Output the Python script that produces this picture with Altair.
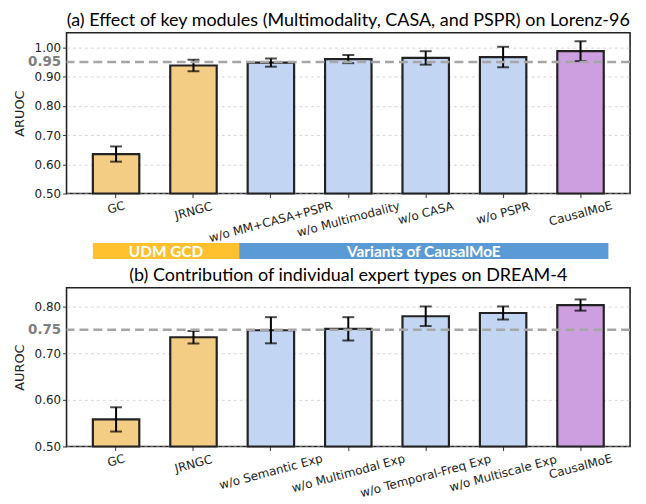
import altair as alt
import pandas as pd

# ---------------- data ----------------
categories_a = ["GC", "JRNGC", "w/o MM+CASA+PSPR", "w/o Multimodality",
                "w/o CASA", "w/o PSPR", "CausalMoE"]
values_a = [0.635, 0.938, 0.948, 0.960, 0.964, 0.967, 0.987]
errors_a = [0.026, 0.020, 0.014, 0.014, 0.023, 0.035, 0.034]

categories_b = ["GC", "JRNGC", "w/o Semantic Exp", "w/o Multimodal Exp",
                "w/o Temporal-Freq Exp", "w/o Multiscale Exp", "CausalMoE"]
values_b = [0.558, 0.734, 0.749, 0.752, 0.779, 0.786, 0.803]
errors_b = [0.026, 0.0135, 0.028, 0.025, 0.021, 0.014, 0.012]

kinds = ["UDM", "UDM", "Variant", "Variant", "Variant", "Variant", "Ours"]
kind_domain = ["UDM", "Variant", "Ours"]
kind_colors = ["#F4CD84", "#C2D6F3", "#CE9FE0"]

ref_a = 0.95
ref_b = 0.75
ticks_a = [0.5, 0.6, 0.7, 0.8, 0.9, 1.0, 0.95]
ticks_b = [0.5, 0.6, 0.7, 0.8, 0.75]

group_names = ["UDM GCD", "Variants of CausalMoE"]
group_edges = [-0.30, 1.59, 6.36]          # band extents in bar-index units
group_colors = ["#FFC12E", "#5B9BD5"]

# ---------------- layout constants ----------------
PAD_INNER = 0.4
PAD_OUTER = 0.34
W = 568
FONT = "DejaVu Sans"
TITLE_FONT = "Lato"
# label padding grows with the rotated label's width (centred, 15 deg rotation)
LABEL_PAD = ("7.5 + 0.80 * length(datum.label)"
             " + 0.31 * (length(datum.label) - length(replace(datum.label, regexp('[A-Z+]', 'g'), '')))")


def panel(cats, vals, errs, ref, domain, ticks, title, ytitle, h):
    df = pd.DataFrame({"cat": cats, "val": vals, "err": errs, "kind": kinds})
    df["lo"] = df["val"] - df["err"]
    df["hi"] = df["val"] + df["err"]
    base = alt.Chart(df)
    is_ref = f"abs(datum.value - {ref}) < 0.0001"
    xscale = alt.Scale(paddingInner=PAD_INNER, paddingOuter=PAD_OUTER)
    yscale = alt.Scale(domain=domain, nice=False, zero=False)
    xaxis = alt.Axis(
        title=None, labelAngle=345, labelAlign="center", labelBaseline="middle",
        labelPadding=alt.ExprRef(LABEL_PAD),
        labelFont=FONT, labelFontSize=12, labelColor="#222", labelOverlap=False,
        tickSize=4, tickColor="#333", domain=False, grid=False,
    )
    yaxis = alt.Axis(
        title=ytitle, values=ticks, tickCount=50, format=".2f", titleFont=FONT,
        titleFontSize=13, titleFontWeight="normal", titleColor="#222", titlePadding=1,
        labelFont=FONT, labelPadding=2, tickSize=4, tickColor="#333", domain=False,
        labelOverlap=False,
        labelColor={"condition": {"test": is_ref, "value": "#808080"}, "value": "#222"},
        labelFontWeight={"condition": {"test": is_ref, "value": "bold"}, "value": "normal"},
        labelFontSize={"condition": {"test": is_ref, "value": 13.5}, "value": 12},
        tickOpacity={"condition": {"test": is_ref, "value": 0}, "value": 1},
        grid=True, gridColor="#cccccc", gridDash=[3, 3], gridWidth=0.8,
        gridOpacity={"condition": {"test": is_ref, "value": 0}, "value": 1},
    )
    xs = alt.X("cat:N", sort=cats)
    bars = base.mark_bar(stroke="#222", strokeWidth=2.2).encode(
        x=alt.X("cat:N", sort=cats, scale=xscale, axis=xaxis),
        y=alt.Y("val:Q", scale=yscale, axis=yaxis),
        y2=alt.datum(domain[0]),
        color=alt.Color("kind:N", scale=alt.Scale(domain=kind_domain, range=kind_colors),
                        legend=None),
    )
    rules = base.mark_rule(color="black", strokeWidth=2).encode(
        x=xs, y="lo:Q", y2="hi:Q"
    )
    cap_lo = base.mark_tick(color="black", orient="horizontal", size=12, thickness=2).encode(
        x=xs, y="lo:Q"
    )
    cap_hi = base.mark_tick(color="black", orient="horizontal", size=12, thickness=2).encode(
        x=xs, y="hi:Q"
    )
    refline = alt.Chart(pd.DataFrame({"r": [ref]})).mark_rule(
        color="#A6A6A6", strokeWidth=2.5, strokeDash=[9, 5]
    ).encode(y="r:Q")
    return alt.layer(bars, rules, cap_lo, cap_hi, refline).properties(
        width=W, height=h,
        title=alt.TitleParams(title, font=TITLE_FONT, fontSize=18.1, fontWeight="normal",
                              color="black", offset=3, anchor="middle"),
    )


panel_a = panel(categories_a, values_a, errors_a, ref_a, [0.5, 1.05], ticks_a,
                "(a) Effect of key modules (Multimodality, CASA, and PSPR) on Lorenz-96",
                "ARUOC", 162)
panel_b = panel(categories_b, values_b, errors_b, ref_b, [0.5, 0.84], ticks_b,
                "(b) Contribution of individual expert types on DREAM-4",
                "AUROC", 160)

# ---------------- group band ----------------
n = len(categories_a)
x_lo = -(PAD_OUTER + (1 - PAD_INNER) / 2)
x_hi = (n - 1) + (PAD_OUTER + (1 - PAD_INNER) / 2)
gdf = pd.DataFrame({
    "name": group_names,
    "start": group_edges[:-1],
    "end": group_edges[1:],
})
gdf["mid"] = (gdf["start"] + gdf["end"]) / 2
gx = alt.Scale(domain=[x_lo, x_hi], nice=False, zero=False)
gbase = alt.Chart(gdf)
gbar = gbase.mark_rect().encode(
    x=alt.X("start:Q", scale=gx, axis=None),
    x2="end:Q",
    y=alt.value(50),
    y2=alt.value(66),
    color=alt.Color("name:N", scale=alt.Scale(domain=group_names, range=group_colors),
                    legend=None),
)
gtext = gbase.mark_text(font=TITLE_FONT, fontSize=15.5, fontWeight="bold", color="white",
                        baseline="middle", align="center").encode(
    x=alt.X("mid:Q", scale=gx, axis=None),
    y=alt.value(58.5),
    text="name:N",
)
band = alt.layer(gbar, gtext).properties(
    width=W, height=95, view=alt.ViewBackground(stroke="transparent")
)

chart = alt.vconcat(panel_a, band, panel_b, spacing=0, bounds="flush").resolve_scale(
    color="independent"
).properties(
    padding={"left": 4, "top": 1, "right": 5, "bottom": 5}
).configure_view(stroke="#222", strokeWidth=1.6).configure_axis(labelOverlap=False)

chart.save("out.html", embed_options={"renderer": "svg", "actions": False})
